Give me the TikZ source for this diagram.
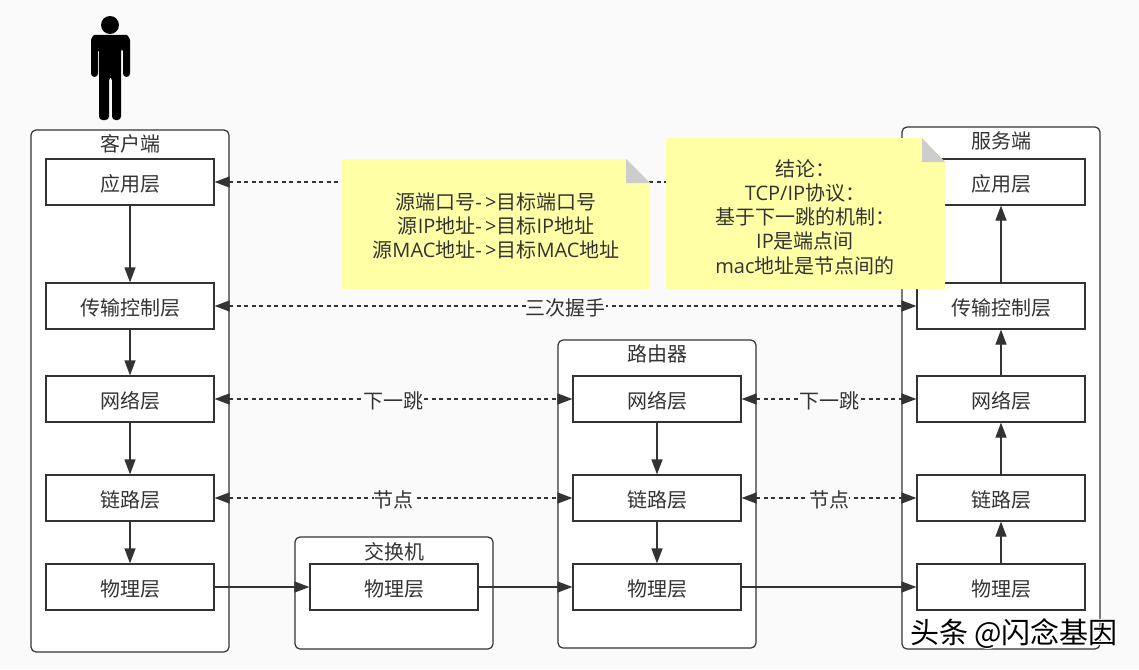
\documentclass[tikz,border=0pt]{standalone}
\usepackage{fontspec}
\setmainfont{Noto Sans CJK SC}
\newfontfamily\latf{Open Sans}
\usetikzlibrary{arrows.meta}
\definecolor{bgc}{HTML}{FAFAFA}
\definecolor{ink}{HTML}{333333}
\definecolor{notey}{HTML}{FFFFA6}
\definecolor{foldc}{HTML}{CCCCCC}
\tikzset{
  x=1pt,y=-1pt,
  txt/.style={text=ink,font=\fontsize{20}{24.2}\selectfont,inner sep=0pt,align=center},
  layer/.style={draw=ink,fill=white,line width=1.2pt,minimum width=168pt,minimum height=46pt,inner sep=0pt,txt,text height=19.5pt,text depth=0pt},
  group/.style={draw=ink,fill=white,line width=1.2pt,rounded corners=5pt,inner sep=0pt},
  flow/.style={draw=ink,line width=1.2pt,-{Triangle[length=15pt,width=11pt]}},
  peer/.style={draw=ink,line width=1.25pt,dash pattern=on 4pt off 3.5pt,{Triangle[length=15pt,width=11pt]}-{Triangle[length=15pt,width=11pt]}},
  lab/.style={txt,fill=bgc,inner xsep=0pt,inner ysep=0pt,text height=19.5pt,text depth=0pt},
  note/.style={fill=notey},
  fold/.style={fill=foldc},
  wmark/.style={font=\fontsize{29}{32}\selectfont,inner sep=0pt},
}
\begin{document}
\begin{tikzpicture}
\useasboundingbox (0,0) rectangle (1139,669);
\fill[bgc] (0,0) rectangle (1139,669);
% person
\fill[black] (110,25) circle (9);
\fill[black,rounded corners=3.5pt] (98,35) .. controls (93,35) and (91,39) .. (91,44) -- (91,77) -- (98,77) -- (98,48) -- (99,48) -- (99,120) -- (109,120) -- (109,77) -- (112,77) -- (112,120) -- (121,120) -- (121,48) -- (123,48) -- (123,77) -- (130,77) -- (130,44) .. controls (130,39) and (128,35) .. (123,35) -- cycle;
% containers
\draw[group] (31,130) rectangle (229,652);
\draw[group] (295,537) rectangle (493,649);
\draw[group] (558,340) rectangle (756,648);
\draw[group] (902,127) rectangle (1100,649);
\node[txt] (tc) at (130,144) {客户端};
\node[txt] (ts) at (394,552) {交换机};
\node[txt] (tr) at (657,354) {路由器};
\node[txt] (tv) at (1001,141) {服务端};
% client
\node[layer] (ca) at (130,182) {应用层};
\node[layer] (ct) at (130,306) {传输控制层};
\node[layer] (cn) at (130,399) {网络层};
\node[layer] (cl) at (130,498) {链路层};
\node[layer] (cp) at (130,587) {物理层};
% switch
\node[layer] (sp) at (394,587) {物理层};
% router
\node[layer] (rn) at (657,399) {网络层};
\node[layer] (rl) at (657,498) {链路层};
\node[layer] (rp) at (657,587) {物理层};
% server
\node[layer] (va) at (1001,182) {应用层};
\node[layer] (vt) at (1001,306) {传输控制层};
\node[layer] (vn) at (1001,399) {网络层};
\node[layer] (vl) at (1001,498) {链路层};
\node[layer] (vp) at (1001,587) {物理层};
% vertical flow
\draw[flow] (ca) -- (ct);
\draw[flow] (ct) -- (cn);
\draw[flow] (cn) -- (cl);
\draw[flow] (cl) -- (cp);
\draw[flow] (rn) -- (rl);
\draw[flow] (rl) -- (rp);
\draw[flow] (vp) -- (vl);
\draw[flow] (vl) -- (vn);
\draw[flow] (vn) -- (vt);
\draw[flow] (vt) -- (va);
% physical
\draw[flow] (cp) -- (sp);
\draw[flow] (sp) -- (rp);
\draw[flow] (rp) -- (vp);
% peers
\draw[peer] (ca) -- (va);
\draw[peer] (ct) -- node[lab] {三次握手} (vt);
\draw[peer] (cn) -- node[lab] {下一跳} (rn);
\draw[peer] (rn) -- node[lab] {下一跳} (vn);
\draw[peer] (cl) -- node[lab] {节点} (rl);
\draw[peer] (rl) -- node[lab] {节点} (vl);
% notes
\fill[note] (342,159) -- (626,159) -- (650,183) -- (650,289) -- (342,289) -- cycle;
\fill[fold] (626,159) -- (650,183) -- (626,183) -- cycle;
\node[txt] (n1) at (496,226) {源端口号{\latf -\,>}目标端口号\\源{\latf IP}地址{\latf -\,>}目标{\latf IP}地址\\源{\latf MAC}地址{\latf -\,>}目标{\latf MAC}地址};
\fill[note] (666,138) -- (922,138) -- (945,162) -- (945,289) -- (666,289) -- cycle;
\fill[fold] (922,138) -- (945,162) -- (922,162) -- cycle;
\node[txt] (n2) at (805,217) {结论：\\{\latf TCP/IP}协议：\\基于下一跳的机制：\\{\latf IP}是端点间\\{\latf mac}地址是节点间的};
% watermark
\node[wmark,text=white] (wm0) at (1015,635) {头条 @闪念基因};
\node[wmark,text=white] (wm1) at (1013,633) {头条 @闪念基因};
\node[wmark,text=black] (wm) at (1014,634) {头条 @闪念基因};
\end{tikzpicture}
\end{document}
